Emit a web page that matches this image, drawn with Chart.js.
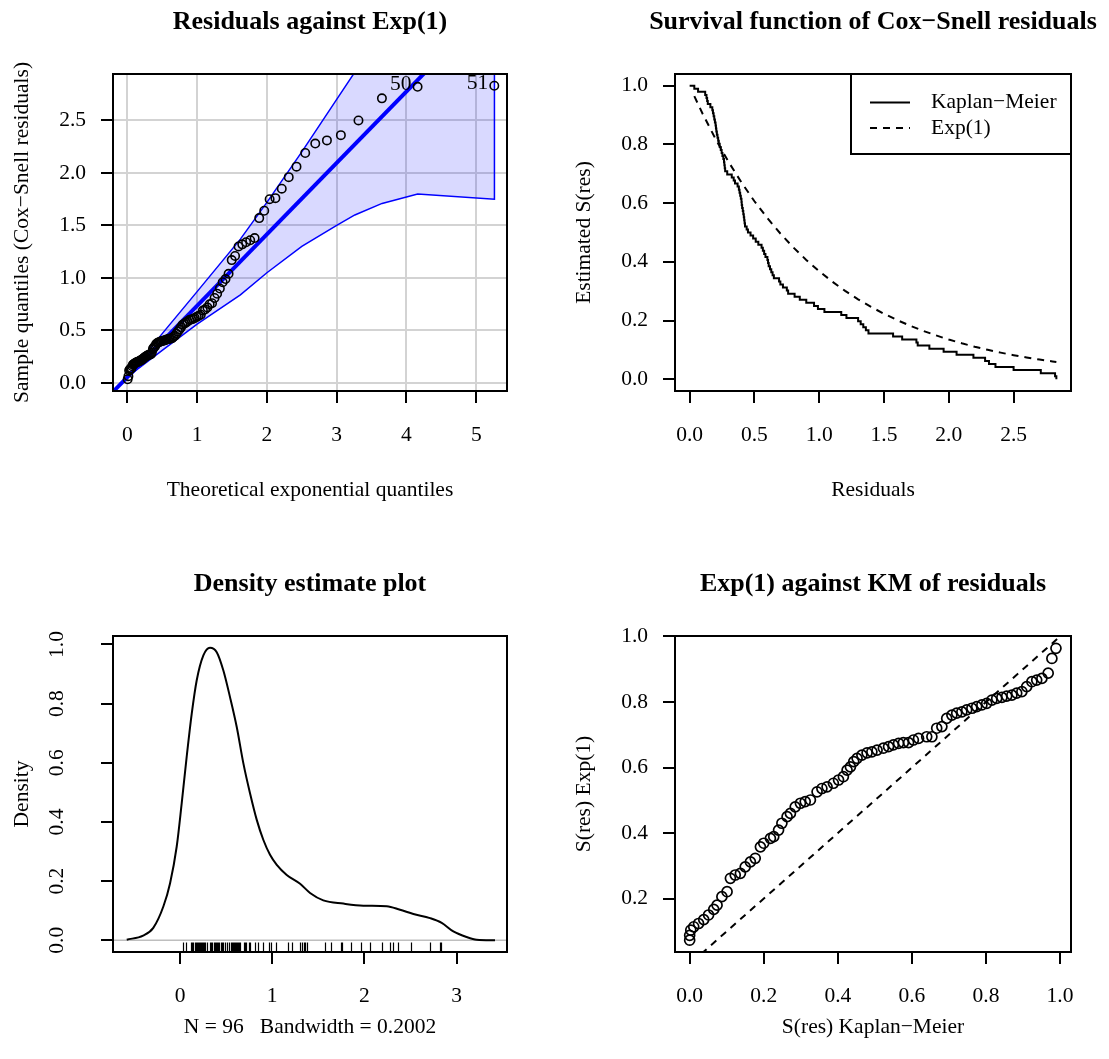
<!DOCTYPE html>
<html>
<head>
<meta charset="utf-8">
<script src="https://cdn.jsdelivr.net/npm/chart.js@4.4.1/dist/chart.umd.min.js"></script>
<style>
    html, body { margin: 0; padding: 0; background: #ffffff; }
    #page { position: relative; width: 1109px; height: 1059px; }
    #page canvas { position: absolute; }
</style>
</head>
<body>
<div id="page">
    <canvas id="qq" width="554" height="530" style="left:0;top:0"></canvas>
    <canvas id="km" width="555" height="530" style="left:554px;top:0"></canvas>
    <canvas id="dens" width="554" height="529" style="left:0;top:530px"></canvas>
    <canvas id="kmexp" width="555" height="529" style="left:554px;top:530px"></canvas>
</div>
<script>
// Cox-Snell residuals, sorted (also the rug of the density plot)
const residuals = [
    0.036, 0.065, 0.12, 0.13, 0.135, 0.14, 0.16, 0.175, 0.18, 0.185,
    0.19, 0.195, 0.20, 0.203, 0.206, 0.21, 0.215, 0.22, 0.225, 0.232,
    0.24, 0.247, 0.253, 0.26, 0.265, 0.268, 0.271, 0.274, 0.29, 0.325,
    0.34, 0.35, 0.37, 0.38, 0.385, 0.39, 0.395, 0.40, 0.402, 0.405,
    0.41, 0.414, 0.418, 0.421, 0.424, 0.427, 0.44, 0.45, 0.47, 0.49,
    0.51, 0.53, 0.555, 0.565, 0.575, 0.585, 0.60, 0.605, 0.61, 0.62,
    0.63, 0.64, 0.65, 0.69, 0.70, 0.72, 0.75, 0.76, 0.81, 0.85,
    0.90, 0.96, 0.99, 1.04, 1.17, 1.21, 1.30, 1.32, 1.34, 1.36,
    1.38, 1.57, 1.64, 1.75, 1.76, 1.85, 1.96, 2.06, 2.19, 2.28,
    2.31, 2.36, 2.50, 2.71, 2.82, 2.83,
];

// Theoretical exponential quantiles (x of the QQ plot)
const theoQ = [
    0.005, 0.016, 0.026, 0.037, 0.048, 0.059, 0.070, 0.081, 0.093, 0.104,
    0.116, 0.128, 0.140, 0.152, 0.164, 0.176, 0.189, 0.201, 0.214, 0.227,
    0.240, 0.254, 0.267, 0.281, 0.295, 0.309, 0.323, 0.338, 0.352, 0.367,
    0.382, 0.398, 0.413, 0.429, 0.445, 0.462, 0.478, 0.495, 0.513, 0.530,
    0.548, 0.566, 0.585, 0.604, 0.623, 0.642, 0.662, 0.683, 0.704, 0.725,
    0.747, 0.769, 0.792, 0.815, 0.839, 0.863, 0.888, 0.914, 0.940, 0.967,
    0.995, 1.023, 1.053, 1.083, 1.114, 1.147, 1.180, 1.214, 1.250, 1.287,
    1.326, 1.366, 1.407, 1.451, 1.496, 1.544, 1.594, 1.647, 1.702, 1.761,
    1.824, 1.890, 1.962, 2.039, 2.122, 2.213, 2.313, 2.424, 2.549, 2.693,
    2.860, 3.060, 3.312, 3.648, 4.159, 5.258,
];
const qqLabelIndex = [94, 95];
const qqLabelText = ["50", "51"];

// Envelope band and reference line of the QQ plot
const bandX = [0.005, 0.5, 1.0, 1.62, 2.0, 2.5, 3.0, 3.26, 3.65, 4.16, 5.26];
const bandUpper = [0.06, 0.47, 0.87, 1.37, 1.72, 2.20, 2.70, 2.96, 3.36, 3.90, 5.20];
const bandLower = [0.06, 0.31, 0.56, 0.84, 1.05, 1.30, 1.50, 1.60, 1.71, 1.80, 1.75];
const refX = [-1, 6];
const refY = [-0.624, 4.136];

// Kaplan-Meier of the residuals (time 0 first)
const kmTime = [0].concat(residuals);
const kmSurv = [
    1, 0.9896, 0.9792, 0.9688, 0.9583, 0.9479, 0.9375, 0.9271, 0.9167, 0.9063, 0.8958,
    0.8854, 0.875, 0.8646, 0.8542, 0.8438, 0.8333, 0.8229, 0.8125, 0.8021, 0.7917,
    0.7813, 0.7708, 0.7604, 0.75, 0.7396, 0.7292, 0.7188, 0.7083, 0.6979, 0.6875,
    0.6771, 0.6667, 0.6563, 0.6458, 0.6354, 0.625, 0.6146, 0.6042, 0.5938, 0.5833,
    0.5729, 0.5625, 0.5521, 0.5417, 0.5313, 0.5208, 0.5104, 0.5, 0.4896, 0.4792,
    0.4688, 0.4583, 0.4479, 0.4375, 0.4271, 0.4167, 0.4063, 0.3958, 0.3854, 0.375,
    0.3646, 0.3542, 0.3438, 0.3333, 0.3229, 0.3125, 0.3021, 0.2917, 0.2813, 0.2708,
    0.2604, 0.25, 0.2396, 0.2292, 0.2188, 0.2083, 0.1979, 0.1875, 0.1771, 0.1667,
    0.1563, 0.1458, 0.1354, 0.125, 0.1146, 0.1042, 0.0938, 0.0833, 0.0729, 0.0625,
    0.0521, 0.0417, 0.0313, 0.0208, 0.0104, 0,
];

// Exp(1) survival curve
const expX = [0.036, 0.1, 0.2, 0.3, 0.4, 0.5, 0.6, 0.7, 0.8, 0.9, 1.0, 1.1, 1.2, 1.3, 1.4, 1.5,
    1.6, 1.7, 1.8, 1.9, 2.0, 2.1, 2.2, 2.3, 2.4, 2.5, 2.6, 2.7, 2.8, 2.83];
const expS = [0.9646, 0.9048, 0.8187, 0.7408, 0.6703, 0.6065, 0.5488, 0.4966, 0.4493, 0.4066,
    0.3679, 0.3329, 0.3012, 0.2725, 0.2466, 0.2231, 0.2019, 0.1827, 0.1653, 0.1496,
    0.1353, 0.1225, 0.1108, 0.1003, 0.0907, 0.0821, 0.0743, 0.0672, 0.0608, 0.0590];
const legendLabels = ["Kaplan\u2212Meier", "Exp(1)"];

// Density estimate
const densX = [-0.578, -0.40, -0.29, -0.18, -0.108, -0.036, 0.018, 0.072, 0.127, 0.181,
    0.253, 0.325, 0.398, 0.470, 0.542, 0.615, 0.687, 0.759, 0.832, 0.904,
    0.976, 1.049, 1.157, 1.302, 1.410, 1.554, 1.771, 1.988, 2.242, 2.386,
    2.531, 2.711, 2.838, 2.964, 3.109, 3.218, 3.416];
const densY = [0.002, 0.016, 0.042, 0.115, 0.193, 0.317, 0.463, 0.620, 0.766, 0.879,
    0.963, 0.989, 0.974, 0.912, 0.822, 0.721, 0.598, 0.497, 0.407, 0.339,
    0.289, 0.255, 0.221, 0.191, 0.160, 0.135, 0.124, 0.117, 0.115, 0.103,
    0.089, 0.075, 0.059, 0.030, 0.011, 0.002, 0.000];

// Exp(1) against KM of residuals
const kmFit = [0, 0, 0.003, 0.011, 0.024, 0.038, 0.051, 0.065, 0.074, 0.087,
    0.101, 0.110, 0.123, 0.137, 0.150, 0.164, 0.177, 0.191, 0.200, 0.218,
    0.227, 0.240, 0.249, 0.263, 0.272, 0.285, 0.299, 0.312, 0.326, 0.344,
    0.357, 0.371, 0.388, 0.402, 0.415, 0.425, 0.434, 0.443, 0.452, 0.465,
    0.479, 0.492, 0.506, 0.523, 0.537, 0.550, 0.564, 0.577, 0.591, 0.604,
    0.618, 0.640, 0.654, 0.667, 0.681, 0.694, 0.708, 0.721, 0.735, 0.748,
    0.762, 0.775, 0.789, 0.802, 0.816, 0.829, 0.843, 0.856, 0.870, 0.883,
    0.897, 0.910, 0.924, 0.937, 0.951, 0.968, 0.978, 0.989];
const expFit = [0.073, 0.088, 0.104, 0.114, 0.124, 0.136, 0.150, 0.167, 0.180, 0.206,
    0.221, 0.262, 0.272, 0.277, 0.297, 0.312, 0.323, 0.358, 0.369, 0.384,
    0.389, 0.409, 0.430, 0.450, 0.460, 0.480, 0.491, 0.496, 0.501, 0.526,
    0.536, 0.541, 0.552, 0.562, 0.572, 0.592, 0.602, 0.618, 0.628, 0.638,
    0.645, 0.648, 0.653, 0.659, 0.664, 0.669, 0.674, 0.676, 0.676, 0.684,
    0.689, 0.694, 0.694, 0.720, 0.725, 0.750, 0.760, 0.766, 0.770, 0.776,
    0.781, 0.786, 0.791, 0.796, 0.806, 0.811, 0.814, 0.818, 0.821, 0.827,
    0.832, 0.847, 0.862, 0.867, 0.872, 0.888, 0.933, 0.964];
const diagX = [-0.1, 1.1];
const diagY = [-0.1, 1.1];

// Tick values
const qqXTicks = [0, 1, 2, 3, 4, 5];
const qqYTicks = [0, 0.5, 1.0, 1.5, 2.0, 2.5];
const kmXTicks = [0, 0.5, 1.0, 1.5, 2.0, 2.5];
const kmYTicks = [0, 0.2, 0.4, 0.6, 0.8, 1.0];
const densXTicks = [0, 1, 2, 3];
const densYTicks = [0, 0.2, 0.4, 0.6, 0.8, 1.0];
const fitXTicks = [0, 0.2, 0.4, 0.6, 0.8, 1.0];
const fitYTicks = [0.2, 0.4, 0.6, 0.8, 1.0];

const FONT = '"Liberation Serif", "Times New Roman", serif';
const TEXT = '21.5px ' + FONT;
const DASH = [7, 6];

const pairs = (xs, ys) => xs.map((x, i) => ({ x: x, y: ys[i] }));

// Axis builder: fixed ticks, fixed box size so the plot box sits where R put it
const axis = (min, max, values, digits, size, isX, opts = {}) => ({
    type: "linear",
    min: min,
    max: max,
    afterFit: (scale) => {
        if (isX) scale.height = size;
        else scale.width = size;
    },
    afterBuildTicks: (scale) => {
        scale.ticks = values.map((v) => ({ value: v }));
    },
    border: { display: false },
    grid: {
        drawOnChartArea: !!opts.grid,
        color: opts.grid || "transparent",
        lineWidth: 2,
        tickColor: "#000",
        tickWidth: 2,
        tickLength: 12,
    },
    ticks: {
        display: opts.hideLabels ? false : true,
        color: "#000",
        font: { family: FONT, size: 21.5 },
        padding: isX ? 19 : 15,
        autoSkip: false,
        maxRotation: 0,
        minRotation: 0,
        callback: (v) => Number(v).toFixed(digits),
    },
});

// Box, main title and axis titles
const paperText = {
    id: "paperText",
    afterDraw(chart, args, opts) {
        const { ctx, chartArea: a } = chart;
        ctx.save();
        ctx.strokeStyle = "#000";
        ctx.lineWidth = 2;
        ctx.strokeRect(a.left, a.top, a.right - a.left, a.bottom - a.top);
        ctx.fillStyle = "#000";
        ctx.textAlign = "center";
        ctx.textBaseline = "middle";
        ctx.font = "bold 26px " + FONT;
        ctx.fillText(opts.title, (a.left + a.right) / 2, a.top - 52);
        ctx.font = TEXT;
        ctx.fillText(opts.xTitle, (a.left + a.right) / 2, a.bottom + opts.xGap);
        ctx.translate(a.left - 91, (a.top + a.bottom) / 2);
        ctx.rotate(-Math.PI / 2);
        ctx.fillText(opts.yTitle, 0, 0);
        ctx.restore();
    },
};

const baseOptions = (padding, text) => ({
    animation: false,
    responsive: false,
    devicePixelRatio: 1,
    events: [],
    layout: { padding: padding },
    plugins: {
        legend: { display: false },
        tooltip: { enabled: false },
        paperText: text,
    },
});

// Panel 1: QQ plot
const qqOptions = baseOptions({ left: 0, top: 74, right: 47, bottom: 0 }, {
    title: "Residuals against Exp(1)",
    xTitle: "Theoretical exponential quantiles",
    yTitle: "Sample quantiles (Cox\u2212Snell residuals)",
    xGap: 99,
});
qqOptions.scales = {
    x: axis(-0.205, 5.44, qqXTicks, 0, 139, true, { grid: "#d3d3d3" }),
    y: axis(-0.076, 2.942, qqYTicks, 1, 113, false, { grid: "#d3d3d3" }),
};

new Chart(document.getElementById("qq"), {
    type: "scatter",
    data: {
        datasets: [
            {
                data: pairs(theoQ, residuals),
                pointRadius: 4.2,
                pointBorderWidth: 1.6,
                pointBorderColor: "#000",
                pointBackgroundColor: "transparent",
                order: 1,
            },
            {
                data: pairs(refX, refY),
                showLine: true,
                borderColor: "#0000ff",
                borderWidth: 4,
                pointRadius: 0,
                order: 2,
            },
            {
                data: pairs(bandX, bandUpper).concat(pairs(bandX, bandLower).reverse()),
                showLine: true,
                fill: "shape",
                backgroundColor: "rgba(0, 0, 255, 0.15)",
                borderColor: "#0000ff",
                borderWidth: 1.5,
                pointRadius: 0,
                order: 3,
            },
        ],
    },
    options: qqOptions,
    plugins: [
        paperText,
        {
            id: "pointLabels",
            afterDatasetsDraw(chart) {
                const { ctx, scales } = chart;
                ctx.save();
                ctx.font = TEXT;
                ctx.fillStyle = "#000";
                ctx.textAlign = "right";
                ctx.textBaseline = "middle";
                qqLabelIndex.forEach((idx, i) => {
                    const px = scales.x.getPixelForValue(theoQ[idx]);
                    const py = scales.y.getPixelForValue(residuals[idx]);
                    ctx.fillText(qqLabelText[i], px - 6, py - 2);
                });
                ctx.restore();
            },
        },
    ],
});

// Panel 2: survival function
const kmOptions = baseOptions({ left: 0, top: 74, right: 38, bottom: 0 }, {
    title: "Survival function of Cox\u2212Snell residuals",
    xTitle: "Residuals",
    yTitle: "Estimated S(res)",
    xGap: 99,
});
kmOptions.scales = {
    x: axis(-0.113, 2.943, kmXTicks, 1, 139, true),
    y: axis(-0.04, 1.04, kmYTicks, 1, 121, false),
};

new Chart(document.getElementById("km"), {
    type: "scatter",
    data: {
        datasets: [
            {
                data: pairs(kmTime, kmSurv),
                showLine: true,
                stepped: true,
                borderColor: "#000",
                borderWidth: 2,
                pointRadius: 0,
            },
            {
                data: pairs(expX, expS),
                showLine: true,
                borderColor: "#000",
                borderWidth: 2,
                borderDash: DASH,
                pointRadius: 0,
            },
        ],
    },
    options: kmOptions,
    plugins: [
        paperText,
        {
            id: "kmLegend",
            afterDraw(chart) {
                const { ctx, chartArea: a } = chart;
                const w = 220;
                const h = 80;
                const bx = a.right - w;
                const by = a.top;
                ctx.save();
                ctx.strokeStyle = "#000";
                ctx.fillStyle = "#000";
                ctx.lineWidth = 2;
                ctx.strokeRect(bx, by, w, h);
                ctx.font = TEXT;
                ctx.textAlign = "left";
                ctx.textBaseline = "middle";
                legendLabels.forEach((label, i) => {
                    const y = by + 28.5 + i * 25.6;
                    ctx.setLineDash(i === 0 ? [] : DASH);
                    ctx.beginPath();
                    ctx.moveTo(bx + 19, y);
                    ctx.lineTo(bx + 59, y);
                    ctx.stroke();
                    ctx.setLineDash([]);
                    ctx.fillText(label, bx + 80, y);
                });
                ctx.restore();
            },
        },
    ],
});

// Panel 3: density estimate
const densOptions = baseOptions({ left: 0, top: 106, right: 47, bottom: 0 }, {
    title: "Density estimate plot",
    xTitle: "N = 96   Bandwidth = 0.2002",
    yTitle: "Density",
    xGap: 75,
});
densOptions.scales = {
    x: axis(-0.727, 3.546, densXTicks, 0, 107, true),
    y: axis(-0.0396, 1.0286, densYTicks, 1, 113, false, { hideLabels: true }),
};

new Chart(document.getElementById("dens"), {
    type: "scatter",
    data: {
        datasets: [
            {
                data: pairs(densX, densY),
                showLine: true,
                tension: 0.4,
                cubicInterpolationMode: "monotone",
                borderColor: "#000",
                borderWidth: 2,
                pointRadius: 0,
                order: 1,
            },
            {
                data: pairs([-1, 4], [0, 0]),
                showLine: true,
                borderColor: "#bebebe",
                borderWidth: 1.5,
                pointRadius: 0,
                order: 2,
            },
        ],
    },
    options: densOptions,
    plugins: [
        paperText,
        {
            id: "rugAndTicks",
            afterDraw(chart) {
                const { ctx, chartArea: a, scales } = chart;
                const len = (a.bottom - a.top) * 0.03;
                ctx.save();
                ctx.strokeStyle = "#000";
                ctx.lineWidth = 1.2;
                ctx.beginPath();
                residuals.forEach((v) => {
                    const px = Math.round(scales.x.getPixelForValue(v)) + 0.5;
                    ctx.moveTo(px, a.bottom);
                    ctx.lineTo(px, a.bottom - len);
                });
                ctx.stroke();

                // y labels parallel to the axis, as R does by default
                ctx.fillStyle = "#000";
                ctx.font = TEXT;
                ctx.textAlign = "center";
                ctx.textBaseline = "middle";
                densYTicks.forEach((v) => {
                    ctx.save();
                    ctx.translate(a.left - 56, scales.y.getPixelForValue(v));
                    ctx.rotate(-Math.PI / 2);
                    ctx.fillText(v.toFixed(1), 0, 0);
                    ctx.restore();
                });
                ctx.restore();
            },
        },
    ],
});

// Panel 4: Exp(1) against KM
const fitOptions = baseOptions({ left: 0, top: 106, right: 38, bottom: 0 }, {
    title: "Exp(1) against KM of residuals",
    xTitle: "S(res) Kaplan\u2212Meier",
    yTitle: "S(res) Exp(1)",
    xGap: 75,
});
fitOptions.scales = {
    x: axis(-0.0396, 1.0296, fitXTicks, 1, 107, true),
    y: axis(0.037, 1.0015, fitYTicks, 1, 121, false),
};

new Chart(document.getElementById("kmexp"), {
    type: "scatter",
    data: {
        datasets: [
            {
                data: pairs(kmFit, expFit),
                pointRadius: 5,
                pointBorderWidth: 1.7,
                pointBorderColor: "#000",
                pointBackgroundColor: "transparent",
            },
            {
                data: pairs(diagX, diagY),
                showLine: true,
                borderColor: "#000",
                borderWidth: 2,
                borderDash: DASH,
                pointRadius: 0,
            },
        ],
    },
    options: fitOptions,
    plugins: [paperText],
});
</script>
</body>
</html>
